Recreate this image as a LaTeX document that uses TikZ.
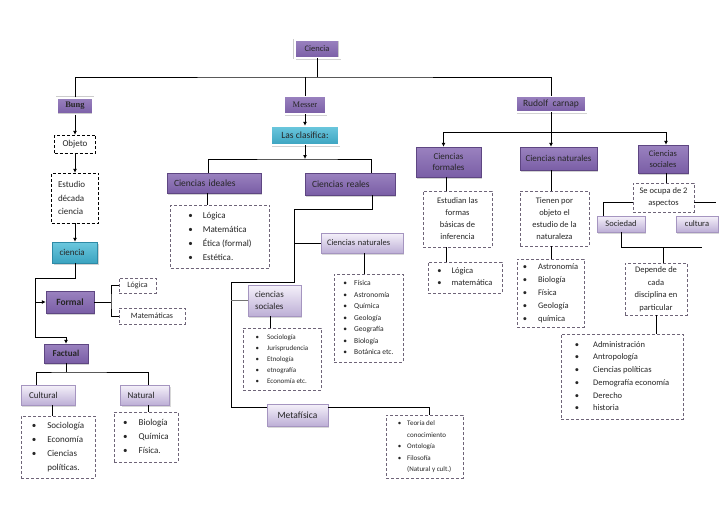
\documentclass[tikz,border=0pt]{standalone}
\usepackage{fontspec}
\setmainfont{Carlito}
\newfontfamily\timesf{Liberation Serif}
\usetikzlibrary{arrows.meta,shadows}
\definecolor{pdtop}{HTML}{9A82BF}
\definecolor{pdbot}{HTML}{7A5EA6}
\definecolor{pdline}{HTML}{5E4682}
\definecolor{cytop}{HTML}{6CC8DE}
\definecolor{cybot}{HTML}{3BA3C0}
\definecolor{cyline}{HTML}{2D8AA6}
\definecolor{ltop}{HTML}{F5F1FA}
\definecolor{lbot}{HTML}{BDAFD6}
\definecolor{lline}{HTML}{A595C0}
\definecolor{dshc}{HTML}{6E6478}
\begin{document}
\begin{tikzpicture}[x=1pt,y=-1pt]
  \tikzset{
    dk/.style={rectangle, inner sep=0pt, top color=pdtop, bottom color=pdbot, draw=pdline, text=black!85,
      drop shadow={shadow xshift=1pt, shadow yshift=-1.5pt, opacity=.35}},
    fr/.style={draw=black!20, double=white, double distance=2pt},
    cy/.style={rectangle, inner sep=0pt, top color=cytop, bottom color=cybot, draw=cyline, text=black!85,
      drop shadow={shadow xshift=1pt, shadow yshift=-1.5pt, opacity=.35}},
    lt/.style={rectangle, inner sep=0pt, top color=ltop, bottom color=lbot, draw=lline, text=black!85,
      drop shadow={shadow xshift=1pt, shadow yshift=-1.5pt, opacity=.3}},
    bx/.style={rectangle, inner sep=0pt, draw=dshc, dash pattern=on 3pt off 2pt, fill=white, text=black!85},
    ln/.style={line width=.8pt},
    arr/.style={ln, -{Latex[length=4pt,width=4pt]}}
  }
  \fill[white] (0,0) rectangle (728,515);
  \useasboundingbox (0,0) rectangle (728,515);

  % cabecera
  \node[dk, fr, minimum width=45pt, minimum height=18pt, font=\fontsize{8.5}{10}\selectfont] (ciencia) at (317,49) {Ciencia};
  \node[dk, fr, minimum width=36pt, minimum height=17pt, font=\timesf\bfseries\fontsize{8.5}{10}\selectfont] (bung) at (75,106) {Bung};
  \node[dk, fr, minimum width=42pt, minimum height=18pt, font=\timesf\fontsize{8.5}{10}\selectfont] (messer) at (305,105) {Messer};
  \node[dk, fr, minimum width=70pt, minimum height=16pt, font=\fontsize{9.5}{11}\selectfont] (rudolf) at (551,104) {Rudolf\ \ carnap};

  % Bung
  \node[bx, draw=black, minimum width=41pt, minimum height=18pt, font=\fontsize{9}{11}\selectfont] (objeto) at (75,144) {Objeto};
  \node[bx, draw=black, minimum width=47pt, minimum height=50pt, text width=34pt, inner xsep=6.5pt, align=left,
    font=\fontsize{9}{13.5}\selectfont] (estudio) at (75,198) {Estudio\\década\\ciencia};
  \node[cy, minimum width=45pt, minimum height=21pt, text width=31pt, inner xsep=7pt, align=left,
    font=\fontsize{9}{11}\selectfont] (cienciab) at (75,252.5) {ciencia};
  \node[dk, minimum width=48pt, minimum height=22pt, font=\bfseries\fontsize{9.5}{11}\selectfont] (formal) at (70,302) {Formal};
  \node[dk, minimum width=44pt, minimum height=19pt, font=\bfseries\fontsize{9}{11}\selectfont] (factual) at (66,353.5) {Factual};
  \node[bx, minimum width=37pt, minimum height=15pt, font=\fontsize{8}{10}\selectfont] (logica) at (137.5,285.5) {Lógica};
  \node[bx, minimum width=66pt, minimum height=16pt, font=\fontsize{8}{10}\selectfont] (matem) at (152,316) {Matemáticas};
  \node[lt, minimum width=54pt, minimum height=20pt, text width=38pt, inner xsep=8pt, align=left,
    font=\fontsize{9}{11}\selectfont] (cultural) at (48,395) {Cultural};
  \node[lt, minimum width=49pt, minimum height=20pt, text width=35pt, inner xsep=7pt, align=left,
    font=\fontsize{9}{11}\selectfont] (natural) at (145,395) {Natural};
  \node[bx, minimum width=74pt, minimum height=62pt, font=\fontsize{9}{14}\selectfont] (lcult) at (58,447)
    {\begin{tabular}{@{}c@{\hspace{11pt}}l@{}}\textbullet & Sociología\\ \textbullet & Economía\\ \textbullet & Ciencias\\ & políticas.\end{tabular}};
  \node[bx, minimum width=64pt, minimum height=50pt, font=\fontsize{9}{14}\selectfont] (lnat) at (146,437)
    {\begin{tabular}{@{}c@{\hspace{11pt}}l@{}}\textbullet & Biología\\ \textbullet & Química\\ \textbullet & Física.\end{tabular}};

  % Messer
  \node[cy, fr, minimum width=68pt, minimum height=19pt, font=\fontsize{9.5}{11}\selectfont] (clasif) at (305,135.5) {Las clasifica:};
  \node[dk, minimum width=94pt, minimum height=20pt, text width=80pt, inner xsep=7pt, align=left,
    font=\fontsize{9.5}{11}\selectfont] (cideal) at (214,183) {Ciencias ideales};
  \node[dk, minimum width=90pt, minimum height=22pt, text width=76pt, inner xsep=7pt, align=left,
    font=\fontsize{9.5}{11}\selectfont] (creal) at (350,184) {Ciencias reales};
  \node[bx, minimum width=99pt, minimum height=63pt, font=\fontsize{9}{14}\selectfont] (lideal) at (220,236.5)
    {\begin{tabular}{@{}c@{\hspace{10pt}}l@{}}\textbullet & Lógica\\ \textbullet & Matemática\\ \textbullet & Ética (formal)\\ \textbullet & Estética.\end{tabular}};
  \node[lt, minimum width=82pt, minimum height=20pt, text width=70pt, inner xsep=6pt, align=left,
    font=\fontsize{8.5}{10}\selectfont] (cnatm) at (362,243) {Ciencias naturales};
  \node[bx, minimum width=69pt, minimum height=88pt, font=\fontsize{7.5}{11.5}\selectfont] (lnatm) at (368.5,318)
    {\begin{tabular}{@{}c@{\hspace{7pt}}l@{}}\textbullet & Física\\ \textbullet & Astronomía\\ \textbullet & Química\\ \textbullet & Geología\\ \textbullet & Geografía\\ \textbullet & Biología\\ \textbullet & Botánica etc.\end{tabular}};
  \node[lt, minimum width=53pt, minimum height=31pt, text width=39pt, inner xsep=7pt, align=left,
    font=\fontsize{9}{12}\selectfont] (csoc) at (274.5,300.5) {ciencias\\sociales};
  \node[bx, minimum width=78pt, minimum height=62pt, font=\fontsize{7}{11}\selectfont] (lsoc) at (282,359)
    {\begin{tabular}{@{}c@{\hspace{8pt}}l@{}}\textbullet & Sociología\\ \textbullet & Jurisprudencia\\ \textbullet & Etnología\\ \textbullet & etnografía\\ \textbullet & Economía etc.\end{tabular}};
  \node[lt, minimum width=61pt, minimum height=22pt, font=\fontsize{9.5}{11}\selectfont] (metaf) at (297.5,415) {Metafísica};
  \node[bx, minimum width=77pt, minimum height=63pt, font=\fontsize{7}{11.5}\selectfont] (lmeta) at (424.5,446.5)
    {\begin{tabular}{@{}c@{\hspace{6pt}}l@{}}\textbullet & Teoría del\\ & conocimiento\\ \textbullet & Ontología\\ \textbullet & Filosofía\\ & (Natural y cult.)\end{tabular}};

  % Rudolf carnap
  \node[dk, minimum width=65pt, minimum height=30pt, align=center, font=\fontsize{9}{11.5}\selectfont] (cform) at (448.5,162) {Ciencias\\formales};
  \node[dk, minimum width=77pt, minimum height=23pt, font=\fontsize{9}{11}\selectfont] (cnatr) at (558.5,158.5) {Ciencias naturales};
  \node[dk, minimum width=50pt, minimum height=28pt, align=center, font=\fontsize{8.5}{11.5}\selectfont] (csocr) at (663,159) {Ciencias\\sociales};
  \node[bx, minimum width=69pt, minimum height=56pt, align=center, font=\fontsize{8.5}{12}\selectfont] (estud) at (457.5,219)
    {Estudian las\\formas\\básicas de\\inferencia};
  \node[bx, minimum width=74pt, minimum height=31pt, font=\fontsize{8.5}{12}\selectfont] (lform) at (465,277.5)
    {\begin{tabular}{@{}c@{\hspace{10pt}}l@{}}\textbullet & Lógica\\ \textbullet & matemática\end{tabular}};
  \node[bx, minimum width=69pt, minimum height=55pt, align=center, font=\fontsize{8.5}{12}\selectfont] (tienen) at (554.5,218.5)
    {Tienen por\\objeto el\\estudio de la\\naturaleza};
  \node[bx, minimum width=67pt, minimum height=68pt, font=\fontsize{8.5}{12.8}\selectfont] (lnatr) at (550.5,293)
    {\begin{tabular}{@{}c@{\hspace{11pt}}l@{}}\textbullet & Astronomía\\ \textbullet & Biología\\ \textbullet & Física\\ \textbullet & Geología\\ \textbullet & química\end{tabular}};
  \node[bx, minimum width=61pt, minimum height=29pt, align=center, font=\fontsize{8.5}{12}\selectfont] (seocupa) at (663.5,197.5)
    {Se ocupa de 2\\aspectos};
  \node[lt, minimum width=48pt, minimum height=16pt, font=\fontsize{8.5}{10}\selectfont] (socied) at (621,224) {Sociedad};
  \node[lt, minimum width=42pt, minimum height=16pt, font=\fontsize{8.5}{10}\selectfont] (cultura) at (697,224) {cultura};
  \node[bx, minimum width=62pt, minimum height=52pt, align=center, font=\fontsize{8.5}{12.5}\selectfont] (depende) at (656,289)
    {Depende de\\cada\\disciplina en\\particular};
  \node[bx, minimum width=122pt, minimum height=85pt, font=\fontsize{8.5}{12.7}\selectfont] (lsocr) at (622,376.5)
    {\begin{tabular}{@{}c@{\hspace{14pt}}l@{}}\textbullet & Administración\\ \textbullet & Antropología\\ \textbullet & Ciencias políticas\\ \textbullet & Demografía economía\\ \textbullet & Derecho\\ \textbullet & historia\end{tabular}};

  % conectores
  \coordinate (bus) at (317,77);
  \draw[ln] (ciencia) -- (bus);
  \draw[ln] (bung.north) |- (bus) -| (rudolf.north);
  \draw[ln] (messer.north) -- (messer.north |- bus);

  \draw[arr] (bung) -- (objeto);
  \draw[arr] (objeto) -- (estudio);
  \draw[arr] (estudio) -- (cienciab);
  \coordinate (ja) at (35,278);
  \coordinate (jb) at (35,337);
  \draw[arr] (cienciab.south) |- (ja) -- (jb) -| (factual.north);
  \draw[arr] (ja |- formal.west) -- (formal.west);
  \coordinate (jc) at (111,302);
  \draw[ln] (formal.east) -- (jc);
  \draw[ln] (logica.west) -| (jc) |- (matem.west);
  \coordinate (jd) at (66,372);
  \draw[ln] (factual) -- (jd);
  \draw[ln] ([xshift=-12pt]cultural.north) |- (jd) -| ([xshift=3pt]natural.north);
  \draw[ln] ([xshift=4pt]cultural.south) -- ([xshift=4pt]cultural.south |- lcult.north);
  \draw[ln] ([xshift=3pt]natural.south) -- ([xshift=3pt]natural.south |- lnat.north);

  \draw[arr] (messer) -- (clasif);
  \coordinate (je) at (305,159);
  \draw[arr] (clasif) -- (je);
  \draw[ln] ([xshift=-6pt]cideal.north) |- (je) -| ([xshift=21pt]creal.north);
  \draw[ln] ([xshift=-7pt]cideal.south) -- ([xshift=-7pt]cideal.south |- lideal.north);
  \coordinate (jf) at (294,209);
  \coordinate (jg) at (231,282);
  \coordinate (jh) at (231,407);
  \draw[ln] ([xshift=22pt]creal.south) |- (jf) |- (jg) -- (jh) -- (jh -| metaf.west);
  \draw[ln] (jf |- cnatm.west) -- (cnatm.west);
  \draw[ln, black!55] (jg |- csoc.west) -- (csoc.west);
  \draw[ln] ([xshift=2pt]cnatm.south) -- ([xshift=2pt]cnatm.south |- lnatm.north);
  \draw[ln] ([xshift=-4pt]csoc.south) -- ([xshift=-4pt]csoc.south |- lsoc.north);
  \draw[ln] (jh -| metaf.east) -| ([xshift=5pt]lmeta.north);

  \coordinate (ji) at (551,132);
  \draw[ln] (rudolf) -- (ji);
  \draw[arr] (ji) -| ([xshift=-5pt]cform.north);
  \draw[arr] (ji) -| ([xshift=3pt]csocr.north);
  \draw[arr] (ji) -- (ji |- cnatr.north);
  \draw[ln] ([xshift=-2pt]cform.south) -- ([xshift=-2pt]cform.south |- estud.north);
  \draw[ln] ([xshift=-11pt]estud.south) -- ([xshift=-11pt]estud.south |- lform.north);
  \draw[ln] (ji |- cnatr.south) -- (ji |- tienen.north);
  \draw[ln] (ji |- tienen.south) -- (ji |- lnatr.north);
  \draw[ln] ([xshift=3pt]csocr.south) -- ([xshift=3pt]csocr.south |- seocupa.north);
  \coordinate (jj) at (716,202);
  \draw[ln] ([yshift=-4.5pt]seocupa.west) -| ([xshift=-18pt]socied.north);
  \draw[ln] ([yshift=-4.5pt]seocupa.east) -- (jj);
  \coordinate (jk) at (663,247);
  \coordinate (jl) at (702,247);
  \draw[ln] (socied.south) |- (jl);
  \draw[ln] (jk) -- (jk |- depende.north);
  \draw[ln] (depende) -- (depende |- lsocr.north);
\end{tikzpicture}
\end{document}
